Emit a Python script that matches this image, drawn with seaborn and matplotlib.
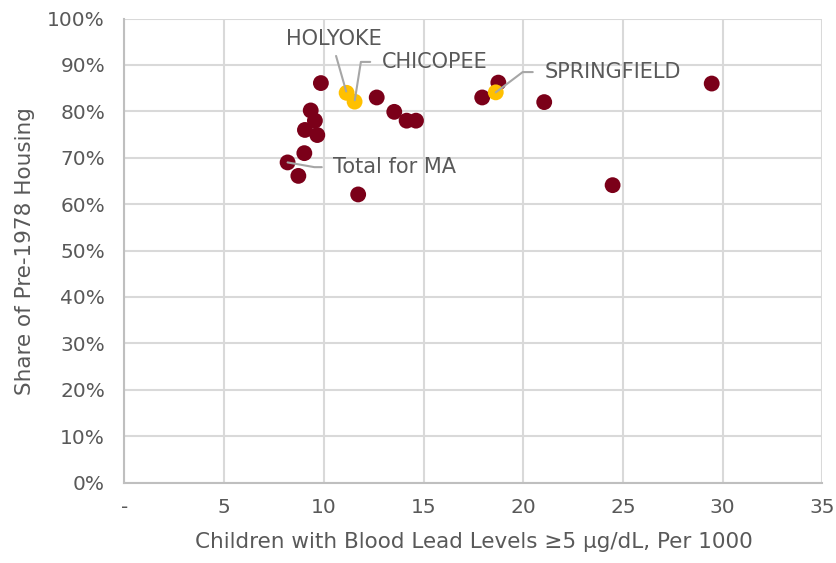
import matplotlib
matplotlib.use("Agg")
import matplotlib.pyplot as plt
from matplotlib.ticker import FixedLocator, FuncFormatter
import pandas as pd
import seaborn as sns

# Children with blood lead levels >=5 ug/dL per 1000, and share of pre-1978 housing (%)
lead_rate = [8.18, 8.72, 9.02, 9.05, 9.34, 9.55, 9.67, 9.85, 11.72, 12.65, 13.53,
             14.15, 14.62, 17.94, 18.75, 21.05, 24.48, 29.45,
             11.14, 11.54, 18.62]
pre1978_share = [69.0, 66.1, 71.0, 76.0, 80.2, 78.0, 74.9, 86.1, 62.1, 83.0, 79.9,
                 78.0, 78.0, 83.0, 86.2, 82.0, 64.1, 86.0,
                 84.0, 82.1, 84.1]
group = ["other"] * 18 + ["highlight"] * 3
place = ["Total for MA"] + [""] * 17 + ["HOLYOKE", "CHICOPEE", "SPRINGFIELD"]

x_ticks = [0, 5, 10, 15, 20, 25, 30, 35]
x_tick_labels = ["-", "5", "10", "15", "20", "25", "30", "35"]
y_ticks = list(range(0, 101, 10))

df = pd.DataFrame({"lead": lead_rate, "share": pre1978_share,
                   "group": group, "place": place})

sns.set_theme(style="white")
plt.rcParams["font.family"] = ["DejaVu Sans"]

text_color = "#595959"
grid_color = "#D9D9D9"
palette = {"other": "#7B0019", "highlight": "#FFC000"}

fig = plt.figure(figsize=(8.36, 5.63), dpi=100)
ax = fig.add_axes([0.1489, 0.1428, 0.8348, 0.8242])

sns.scatterplot(data=df, x="lead", y="share", hue="group", palette=palette,
                s=130, linewidth=0, legend=False, ax=ax, zorder=3)

ax.set_xlim(0, 35)
ax.set_ylim(0, 100)
ax.xaxis.set_major_locator(FixedLocator(x_ticks))
ax.set_xticklabels(x_tick_labels)
ax.yaxis.set_major_locator(FixedLocator(y_ticks))
ax.yaxis.set_major_formatter(FuncFormatter(lambda v, _: f"{v:.0f}%"))

ax.grid(True, color=grid_color, linewidth=1.5, zorder=0)
ax.set_axisbelow(True)
for side in ["top", "right"]:
    ax.spines[side].set_visible(False)
for side in ["left", "bottom"]:
    ax.spines[side].set_color("#BFBFBF")
    ax.spines[side].set_linewidth(1.5)

ax.tick_params(axis="both", length=0, labelsize=14.5, labelcolor=text_color)
ax.tick_params(axis="y", pad=14)
ax.tick_params(axis="x", pad=11)

ax.set_xlabel("Children with Blood Lead Levels \u22655 \u00b5g/dL, Per 1000",
              fontsize=15.5, color=text_color, labelpad=11)
ax.set_ylabel("Share of Pre-1978 Housing", fontsize=15.5, color=text_color, labelpad=9)

line_kw = dict(arrowstyle="-", color="#A6A6A6", lw=1.5)

# Callouts for the labelled points
callouts = {
    "HOLYOKE": dict(offset=(-9.1, 39.0), ha="center",
                    arrow=dict(relpos=(0.5, 0.0), shrinkA=3, shrinkB=1,
                               connectionstyle="arc3")),
    "CHICOPEE": dict(offset=(19.6, 28.6), ha="left",
                     arrow=dict(relpos=(0.0, 0.5), shrinkA=6, shrinkB=1,
                                connectionstyle="angle,angleA=0,angleB=81,rad=0")),
    "SPRINGFIELD": dict(offset=(35.0, 14.6), ha="left",
                        arrow=dict(relpos=(0.0, 0.5), shrinkA=6, shrinkB=0,
                                   connectionstyle="angle,angleA=0,angleB=37,rad=0")),
    "Total for MA": dict(offset=(33.0, -3.4), ha="left",
                         arrow=dict(relpos=(0.0, 0.5), shrinkA=6, shrinkB=0,
                                    connectionstyle="angle,angleA=0,angleB=-10,rad=0")),
}
for _, row in df[df["place"] != ""].iterrows():
    c = callouts[row["place"]]
    ax.annotate(row["place"], xy=(row["lead"], row["share"]),
                xytext=c["offset"], textcoords="offset points",
                ha=c["ha"], va="center", fontsize=15, color=text_color,
                arrowprops={**line_kw, **c["arrow"]}, zorder=4)

fig.savefig("out.png", dpi=100)
